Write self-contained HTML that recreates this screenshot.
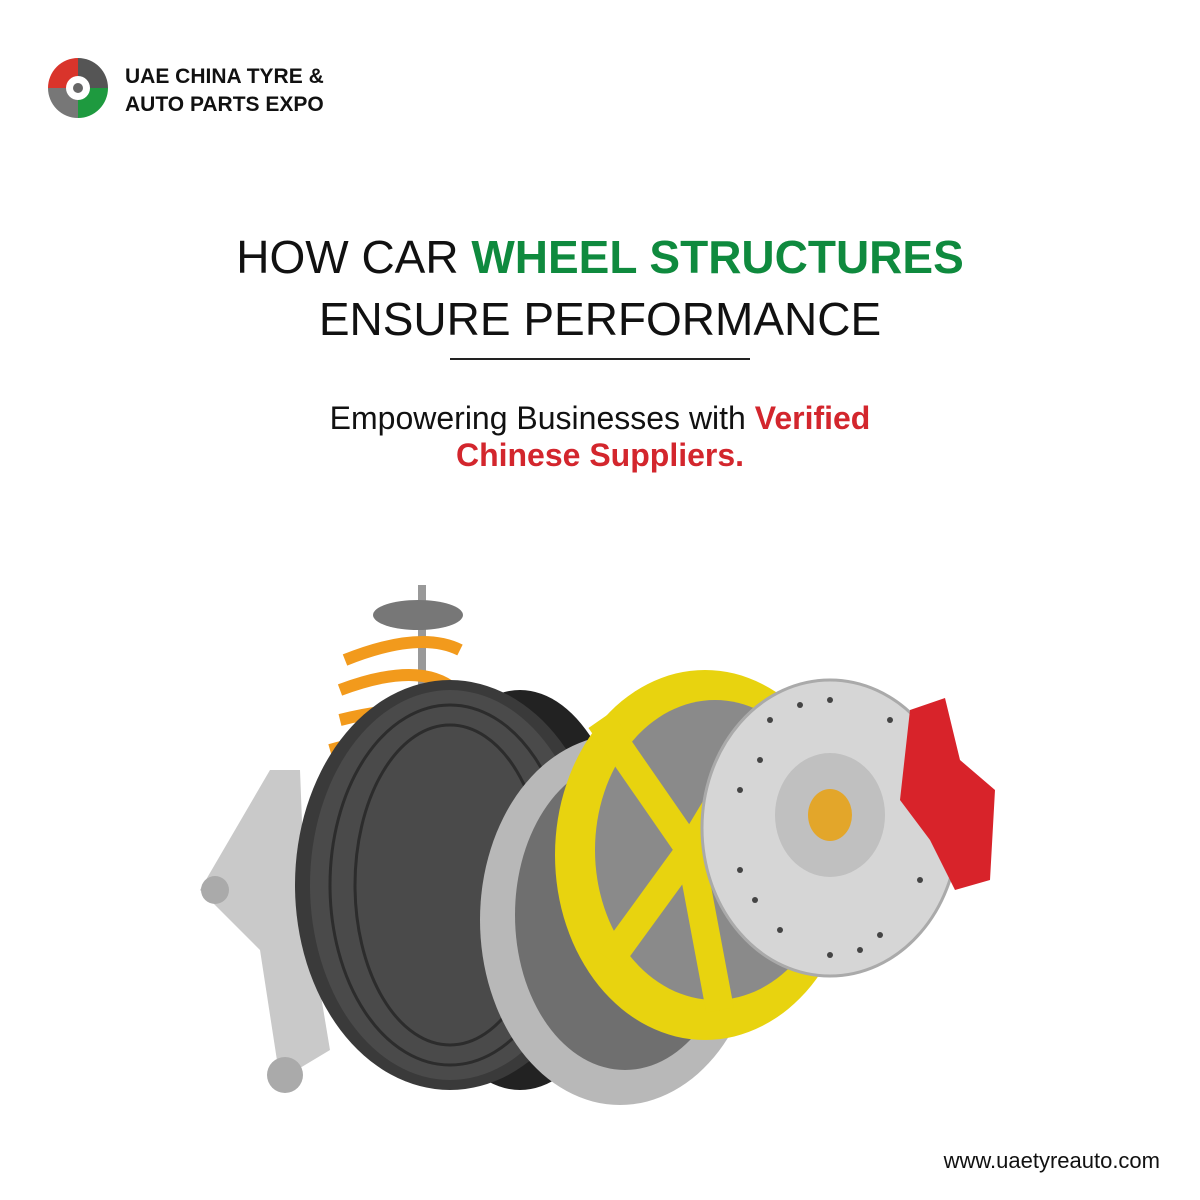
<!DOCTYPE html>
<html><head><meta charset="utf-8"><style>
body{margin:0;width:1200px;height:1200px;background:#fff;position:relative;overflow:hidden;font-family:"Liberation Sans",sans-serif}
.t{position:absolute;left:0;width:1200px;text-align:center;color:#111}
</style></head><body>
<svg style="position:absolute;left:46px;top:56px" width="64" height="64" viewBox="0 0 64 64">
<path d="M32 2 A30 30 0 0 0 2 32 L20 32 A12 12 0 0 1 32 20Z" fill="#d9342b"/>
<path d="M32 2 A30 30 0 0 1 62 32 L44 32 A12 12 0 0 0 32 20Z" fill="#555"/>
<path d="M2 32 A30 30 0 0 0 32 62 L32 44 A12 12 0 0 1 20 32Z" fill="#777"/>
<path d="M62 32 A30 30 0 0 1 32 62 L32 44 A12 12 0 0 0 44 32Z" fill="#1e9a3f"/>
<circle cx="32" cy="32" r="5" fill="#666"/></svg>
<div style="position:absolute;left:125px;top:63px;font-weight:bold;font-size:21px;line-height:28px;color:#111">UAE CHINA TYRE &amp;<br>AUTO PARTS EXPO</div>
<div class="t" style="top:226px;font-size:46px;line-height:62px">HOW CAR <b style="color:#0f8a3e">WHEEL STRUCTURES</b><br>ENSURE PERFORMANCE</div>
<div style="position:absolute;left:450px;top:358px;width:300px;height:2px;background:#222"></div>
<div class="t" style="top:400px;font-size:32px;line-height:37px">Empowering Businesses with <b style="color:#d3262d">Verified<br>Chinese Suppliers.</b></div>
<svg style="position:absolute;left:0;top:560px" width="1200" height="560" viewBox="0 560 1200 560">
<rect x="418" y="585" width="8" height="120" fill="#999"/>
<ellipse cx="418" cy="615" rx="45" ry="15" fill="#777"/>
<g stroke="#f29a1c" stroke-width="12" fill="none">
<path d="M345 660 Q420 630 460 650 M340 690 Q420 660 455 690 M340 720 Q420 700 450 720 M330 750 Q400 730 430 755"/></g>
<path d="M200 890 L270 770 L300 770 L305 900 L330 1050 L280 1080 L260 950 Z" fill="#c9c9c9"/>
<circle cx="285" cy="1075" r="18" fill="#aaa"/>
<circle cx="215" cy="890" r="14" fill="#aaa"/>
<ellipse cx="520" cy="890" rx="110" ry="200" fill="#222"/>
<ellipse cx="450" cy="885" rx="155" ry="205" fill="#3a3a3a"/>
<ellipse cx="450" cy="885" rx="140" ry="195" fill="#4a4a4a"/>
<g stroke="#2c2c2c" stroke-width="3" fill="none"><ellipse cx="450" cy="885" rx="120" ry="180"/><ellipse cx="450" cy="885" rx="95" ry="160"/></g>
<ellipse cx="620" cy="920" rx="140" ry="185" fill="#b8b8b8"/>
<ellipse cx="625" cy="915" rx="110" ry="155" fill="#6f6f6f"/>
<ellipse cx="705" cy="855" rx="150" ry="185" fill="#e8d30f"/>
<ellipse cx="715" cy="850" rx="120" ry="150" fill="#8a8a8a"/>
<g stroke="#e8d30f" stroke-width="28"><path d="M690 850 L600 720 M690 850 L610 960 M690 850 L720 1010 M690 850 L780 700"/></g>
<ellipse cx="830" cy="828" rx="128" ry="148" fill="#d6d6d6" stroke="#aaa" stroke-width="3"/>
<ellipse cx="830" cy="815" rx="55" ry="62" fill="#c0c0c0"/>
<ellipse cx="830" cy="815" rx="22" ry="26" fill="#e3a62a"/>
<g fill="#444"><circle cx="770" cy="720" r="3"/><circle cx="890" cy="720" r="3"/><circle cx="740" cy="790" r="3"/><circle cx="920" cy="790" r="3"/><circle cx="740" cy="870" r="3"/><circle cx="920" cy="880" r="3"/><circle cx="780" cy="930" r="3"/><circle cx="880" cy="935" r="3"/><circle cx="830" cy="700" r="3"/><circle cx="830" cy="955" r="3"/><circle cx="760" cy="760" r="3"/><circle cx="755" cy="900" r="3"/><circle cx="800" cy="705" r="3"/><circle cx="860" cy="950" r="3"/></g>
<path d="M910 710 L945 698 L960 760 L995 790 L990 880 L955 890 L930 840 L900 800 Z" fill="#d8232a"/>
</svg>
<div style="position:absolute;right:40px;top:1148px;font-size:22px;color:#111">www.uaetyreauto.com</div>
</body></html>
